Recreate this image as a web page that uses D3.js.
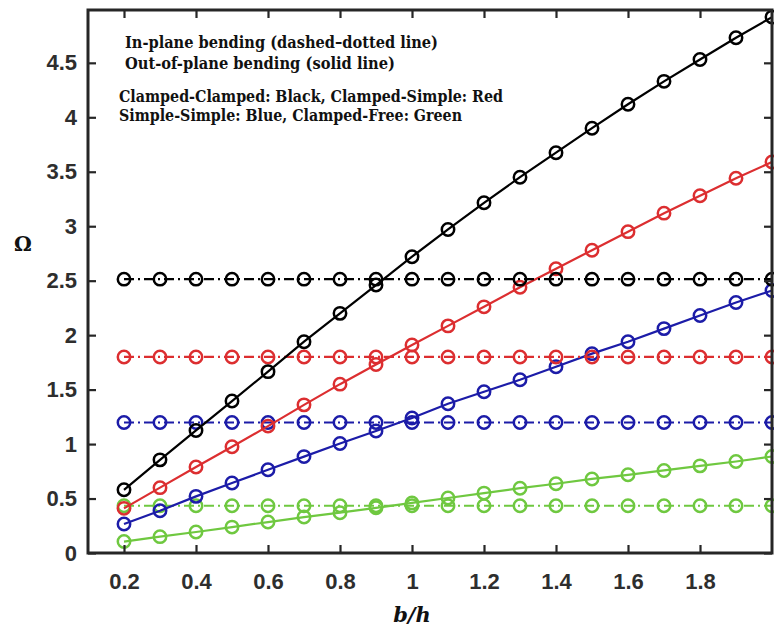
<!DOCTYPE html>
<html>
<head>
<meta charset="utf-8">
<script src="https://cdn.jsdelivr.net/npm/d3@7"></script>
<style>
  html, body { margin: 0; padding: 0; background: #fff; }
  svg { display: block; }
</style>
</head>
<body>
<svg id="chart" width="774" height="630"></svg>
<script>
// ---- data ----
const ratio = [0.2,0.3,0.4,0.5,0.6,0.7,0.8,0.9,1.0,1.1,1.2,1.3,1.4,1.5,1.6,1.7,1.8,1.9,2.0];

// Out-of-plane bending (solid)
const outClampedClamped = [0.58,0.855,1.125,1.395,1.665,1.94,2.20,2.46,2.72,2.97,3.215,3.45,3.675,3.90,4.12,4.33,4.53,4.73,4.92];
const outClampedSimple  = [0.41,0.60,0.79,0.975,1.165,1.36,1.55,1.73,1.91,2.085,2.26,2.44,2.61,2.78,2.95,3.12,3.28,3.44,3.59];
const outSimpleSimple   = [0.266,0.388,0.52,0.642,0.764,0.885,1.005,1.12,1.24,1.37,1.48,1.59,1.71,1.83,1.94,2.06,2.18,2.30,2.41];
const outClampedFree    = [0.105,0.15,0.193,0.238,0.284,0.33,0.37,0.415,0.46,0.505,0.55,0.595,0.636,0.68,0.718,0.758,0.80,0.84,0.886];

// In-plane bending (dash-dotted)
const inClampedClamped = [2.514,2.514,2.514,2.514,2.514,2.514,2.514,2.514,2.514,2.514,2.514,2.514,2.514,2.514,2.514,2.514,2.514,2.514,2.514];
const inClampedSimple  = [1.80,1.80,1.80,1.80,1.80,1.80,1.80,1.80,1.80,1.80,1.80,1.80,1.80,1.80,1.80,1.80,1.80,1.80,1.80];
const inSimpleSimple   = [1.198,1.198,1.198,1.198,1.198,1.198,1.198,1.198,1.198,1.198,1.198,1.198,1.198,1.198,1.198,1.198,1.198,1.198,1.198];
const inClampedFree    = [0.434,0.434,0.434,0.434,0.434,0.434,0.434,0.434,0.434,0.434,0.434,0.434,0.434,0.434,0.434,0.434,0.434,0.434,0.434];

const xTicks = [0.2,0.4,0.6,0.8,1.0,1.2,1.4,1.6,1.8];
const xTickLabels = ["0.2","0.4","0.6","0.8","1","1.2","1.4","1.6","1.8"];
const yTicks = [0,0.5,1,1.5,2,2.5,3,3.5,4,4.5];
const yTickLabels = ["0","0.5","1","1.5","2","2.5","3","3.5","4","4.5"];

const legendLines = [
  "In-plane bending (dashed\u2013dotted line)",
  "Out-of-plane bending (solid line)",
  "Clamped-Clamped: Black, Clamped-Simple: Red",
  "Simple-Simple: Blue, Clamped-Free: Green"
];
const xLabel = "b/h";
const yLabel = "\u03A9";

const seriesColors = { green: "#6fc840", blue: "#1c1ca8", red: "#dc2e30", black: "#000000" };

const series = [
  { values: inClampedFree,    color: seriesColors.green, dashed: true },
  { values: outClampedFree,   color: seriesColors.green, dashed: false },
  { values: inSimpleSimple,   color: seriesColors.blue,  dashed: true },
  { values: outSimpleSimple,  color: seriesColors.blue,  dashed: false },
  { values: inClampedSimple,  color: seriesColors.red,   dashed: true },
  { values: outClampedSimple, color: seriesColors.red,   dashed: false },
  { values: inClampedClamped, color: seriesColors.black, dashed: true },
  { values: outClampedClamped,color: seriesColors.black, dashed: false }
];

// ---- layout ----
const svg = d3.select("#chart");
const mLeft = 88, mRight = 772, mTop = 10, mBottom = 553;
const x = d3.scaleLinear().domain([0.1, 2.0]).range([mLeft, mRight]);
const y = d3.scaleLinear().domain([0, 4.985]).range([mBottom, mTop]);
const axisColor = "#262626";

// plot lines and markers
const line = d3.line().x((d,i) => x(ratio[i])).y(d => y(d));
const plot = svg.append("g");
series.forEach(s => {
  const g = plot.append("g");
  g.append("path")
    .attr("d", line(s.values))
    .attr("fill", "none")
    .attr("stroke", s.color)
    .attr("stroke-width", 2.2)
    .attr("stroke-dasharray", s.dashed ? "10,4,2,4" : null);
  g.selectAll("circle").data(s.values).enter().append("circle")
    .attr("cx", (d,i) => x(ratio[i]))
    .attr("cy", d => y(d))
    .attr("r", 6.2)
    .attr("fill", "none")
    .attr("stroke", s.color)
    .attr("stroke-width", 2.5);
});

// axes
const fontAxis = "'Liberation Sans', Arial, sans-serif";
const xAxis = d3.axisBottom(x).tickValues(xTicks)
  .tickFormat((d,i) => xTickLabels[i]).tickSize(-8).tickPadding(20);
const yAxis = d3.axisLeft(y).tickValues(yTicks)
  .tickFormat((d,i) => yTickLabels[i]).tickSize(-8).tickPadding(11);
const xTop = d3.axisTop(x).tickValues(xTicks).tickFormat("").tickSize(-8);
const yRight = d3.axisRight(y).tickValues(yTicks).tickFormat("").tickSize(-8);

function styleAxis(g) {
  g.select(".domain").remove();
  g.selectAll(".tick line").attr("stroke", axisColor).attr("stroke-width", 2.2);
  g.selectAll(".tick text")
    .attr("fill", "#2e2e2e")
    .style("font-family", fontAxis)
    .style("font-weight", "bold")
    .style("font-size", "22px");
}
svg.append("g").attr("transform", `translate(0,${mBottom})`).call(xAxis).call(styleAxis);
svg.append("g").attr("transform", `translate(${mLeft},0)`).call(yAxis).call(styleAxis);
svg.append("g").attr("transform", `translate(0,${mTop})`).call(xTop).call(styleAxis);
svg.append("g").attr("transform", `translate(${mRight},0)`).call(yRight).call(styleAxis);

// frame
svg.append("rect")
  .attr("x", mLeft).attr("y", mTop)
  .attr("width", mRight - mLeft).attr("height", mBottom - mTop)
  .attr("fill", "none").attr("stroke", axisColor).attr("stroke-width", 3);

// axis labels
svg.append("text")
  .attr("x", 412).attr("y", 622)
  .attr("text-anchor", "middle")
  .style("font-family", "'DejaVu Serif', serif")
  .style("font-style", "italic").style("font-weight", "bold")
  .style("font-size", "21px").attr("fill", "#111")
  .text(xLabel);
svg.append("text")
  .attr("x", 23).attr("y", 251)
  .attr("text-anchor", "middle")
  .style("font-family", "'DejaVu Serif', serif")
  .style("font-weight", "bold")
  .style("font-size", "20px").attr("fill", "#111")
  .text(yLabel);

// annotation text
const legendPos = [
  { x: 125, y: 48, w: 313 },
  { x: 125, y: 69, w: 270 },
  { x: 119, y: 102, w: 384 },
  { x: 119, y: 121, w: 343 }
];
legendLines.forEach((t, i) => {
  svg.append("text")
    .attr("x", legendPos[i].x).attr("y", legendPos[i].y)
    .attr("textLength", legendPos[i].w)
    .attr("lengthAdjust", "spacingAndGlyphs")
    .style("font-family", "'DejaVu Serif', serif")
    .style("font-weight", "bold")
    .style("font-size", "16px").attr("fill", "#111")
    .text(t);
});
</script>
</body>
</html>
